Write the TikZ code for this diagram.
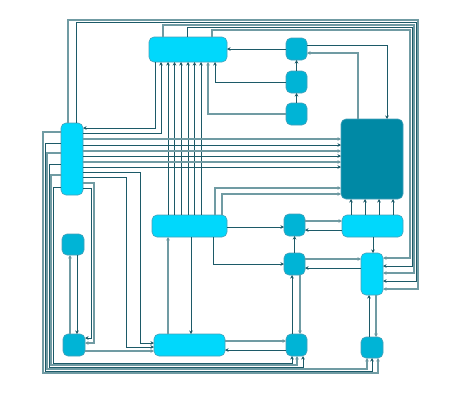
\documentclass[tikz,border=0pt]{standalone}
\usetikzlibrary{arrows.meta}
\definecolor{cLight}{RGB}{0,216,252}
\definecolor{cMid}{RGB}{0,180,214}
\definecolor{cDark}{RGB}{0,137,165}
\definecolor{cBorder}{RGB}{70,160,185}
\definecolor{eDark}{RGB}{28,90,104}
\definecolor{eLight}{RGB}{112,155,163}
\tikzset{
  nbox/.style={draw=cBorder, line width=0.6pt, rounded corners=5pt, inner sep=0pt, outer sep=0pt},
  nlight/.style={nbox, fill=cLight},
  nmid/.style={nbox, fill=cMid},
  ndark/.style={nbox, fill=cDark},
  ed/.style={draw=eDark, line width=0.8pt, -{Stealth[length=3.5pt,width=3.5pt]}},
  el/.style={draw=eLight, line width=1.1pt, -{Stealth[length=3.5pt,width=3.5pt,fill=eDark]}},
}
\begin{document}
\begin{tikzpicture}[x=1pt,y=-1pt]
\useasboundingbox (0,0) rectangle (460,400);
% nodes
\node[nlight, minimum width=78pt, minimum height=25pt] (A) at (188,49.5) {};
\node[nmid, minimum width=21pt, minimum height=22pt] (B) at (296.5,49) {};
\node[nmid, minimum width=21pt, minimum height=22pt] (C) at (296.5,82) {};
\node[nmid, minimum width=21pt, minimum height=22pt] (D) at (296.5,114) {};
\node[ndark, minimum width=62pt, minimum height=80pt] (E) at (372,159) {};
\node[nlight, minimum width=22pt, minimum height=72pt] (F) at (72,159) {};
\node[nlight, minimum width=75pt, minimum height=22pt] (G) at (189.5,226) {};
\node[nmid, minimum width=21pt, minimum height=22pt] (H) at (294.5,225) {};
\node[nlight, minimum width=61pt, minimum height=22pt] (I) at (372.5,226) {};
\node[nmid, minimum width=22pt, minimum height=21pt] (J) at (73,244.5) {};
\node[nmid, minimum width=21pt, minimum height=22pt] (K) at (294.5,264) {};
\node[nlight, minimum width=22pt, minimum height=42pt] (L) at (372,274) {};
\node[nmid, minimum width=22pt, minimum height=22pt] (M) at (74,345) {};
\node[nlight, minimum width=71pt, minimum height=22pt] (N) at (189.5,345) {};
\node[nmid, minimum width=21pt, minimum height=22pt] (O) at (296.5,345) {};
\node[nmid, minimum width=22pt, minimum height=21pt] (P) at (372,347.5) {};

% top loop into L
\draw[el] (F.north -| 68,0) |- (418,20) |- (L.east |- 0,289);
\draw[ed] (F.north -| 76,0) |- (416,22.5) |- (L.east |- 0,281);
\draw[el] (A.north -| 163,0) |- (414,25) |- (L.east |- 0,273);
\draw[ed] (A.north -| 187,0) |- (412,27.5) |- (L.east |- 0,266);
\draw[el] (A.north -| 212,0) |- (410,30) |- (L.east |- 0,258);

% upper right
\draw[ed] (B.west |- 0,49) -- (A.east |- 0,49);
\draw[ed] (C.north) -- (B.south);
\draw[ed] (D.north) -- (C.south);
\draw[ed] (C.west) -| (A.south -| 215,0);
\draw[el] (D.west) -| (A.south -| 208,0);
\draw[ed] (B.east |- 0,45) -| (E.north -| 387,0);
\draw[el] (E.north -| 358,0) |- (B.east |- 0,53);

% A <-> F
\draw[ed] (A.south -| 155,0) |- (F.east |- 0,128);
\draw[ed] (F.east |- 0,133) -| (A.south -| 161,0);

% G -> A
\foreach \X/\s in {168/ed,174.5/ed,181/ed,188/ed,194.5/ed,201/ed}
  \draw[\s] (G.north -| \X,0) -- (A.south -| \X,0);

% F -> E
\foreach \Y/\s in {139/el,145/ed,151/el,156/ed,162/el,167/ed}
  \draw[\s] (F.east |- 0,\Y) -- (E.west |- 0,\Y);

% G -> E
\draw[el] (G.north -| 215,0) |- (E.west |- 0,188);
\draw[el] (G.north -| 222,0) |- (E.west |- 0,194);

% F -> N, M -> N, F -> M
\draw[ed] (F.east |- 0,172) -| (140,343) -- (N.west |- 0,343);
\draw[ed] (F.east |- 0,177) -| (126,347) -- (N.west |- 0,347);
\draw[el] (M.east |- 0,351) -- (N.west |- 0,351);
\draw[el] (F.east |- 0,183) -| (94,343) -- (M.east |- 0,343);
\draw[ed] (F.east |- 0,188) -| (91,338) -- (M.east |- 0,338);

% J <-> M
\draw[el] (M.north -| 70,0) -- (J.south -| 70,0);
\draw[ed] (J.south -| 77,0) -- (M.north -| 77,0);

% left loops F -> O, P
\draw[el] (F.west |- 0,132) -| (43,373) -| (P.south -| 378,0);
\draw[ed] (F.west |- 0,143) -| (45,371) -| (P.south -| 372,0);
\draw[el] (F.west |- 0,153) -| (47,369) -| (P.south -| 367,0);
\draw[ed] (F.west |- 0,164) -| (49,367) -| (O.south -| 303,0);
\draw[el] (F.west |- 0,175) -| (51,365) -| (O.south -| 297,0);
\draw[ed] (F.west |- 0,187) -| (53,363) -| (O.south -| 292,0);

% G <-> N
\draw[ed] (G.south -| 191,0) -- (N.north -| 191,0);
\draw[el] (N.north -| 168,0) -- (G.south -| 168,0);

% middle right
\draw[ed] (G.east |- 0,227) -- (H.west |- 0,227);
\draw[ed] (G.south -| 213,0) |- (K.west |- 0,264);
\draw[el] (H.east |- 0,221) -- (I.west |- 0,221);
\draw[ed] (I.west |- 0,230) -- (H.east |- 0,230);
\draw[ed] (K.north) -- (H.south);
\draw[ed] (I.south -| 373,0) -- (L.north -| 373,0);
\foreach \X in {351,365,379,393}
  \draw[ed] (I.north -| \X,0) -- (E.south -| \X,0);
\draw[el] (K.east |- 0,259) -- (L.west |- 0,259);
\draw[ed] (L.west |- 0,268) -- (K.east |- 0,268);
\draw[ed] (O.north -| 292,0) -- (K.south -| 292,0);
\draw[el] (K.south -| 300,0) -- (O.north -| 300,0);
\draw[ed] (P.north -| 369,0) -- (L.south -| 369,0);
\draw[el] (L.south -| 376,0) -- (P.north -| 376,0);
\draw[el] (N.east |- 0,341) -- (O.west |- 0,341);
\draw[ed] (O.west |- 0,350) -- (N.east |- 0,350);
\end{tikzpicture}
\end{document}
